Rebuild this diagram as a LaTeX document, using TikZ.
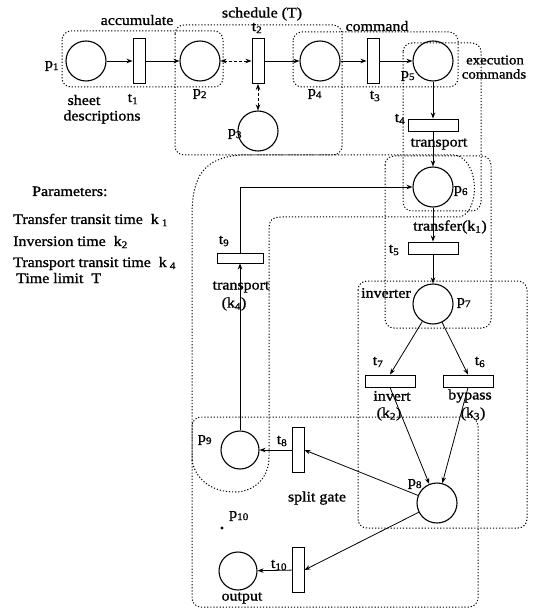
\documentclass[tikz,border=0pt]{standalone}
\usepackage{fontspec}
\setmainfont{Liberation Serif}[FakeStretch=1.1,FakeBold=1.2]
\usetikzlibrary{arrows.meta}
\newcommand\lsb[1]{\textsubscript{#1}}
\begin{document}
\begin{tikzpicture}[x=1pt,y=-1pt,
  placenode/.style={draw,circle,line width=1.1pt,minimum size=40pt,inner sep=0pt},
  vtr/.style={draw,rectangle,line width=0.9pt,minimum width=12pt,minimum height=45pt,inner sep=0pt},
  htr/.style={draw,rectangle,line width=0.9pt,minimum width=50pt,minimum height=12pt,inner sep=0pt},
  flow/.style={line width=0.8pt,-{Stealth[length=6pt,width=4.5pt]}},
  flowtwo/.style={line width=0.8pt,densely dashed,{Stealth[length=6pt,width=4.5pt]}-{Stealth[length=6pt,width=4.5pt]}},
  region/.style={line width=1pt,dash pattern=on 1.2pt off 1.9pt,rounded corners=9pt},
  lbl/.style={inner sep=0pt,font=\fontsize{14.5}{12}\selectfont},
]
\useasboundingbox (0,0) rectangle (539,609);

% dotted regions
\draw[region] (62,31) rectangle (223,87);
\draw[region] (175,25) rectangle (342,155);
\draw[region] (293,32) rectangle (458,87);
\draw[region] (403,43) rectangle (481,211);
\draw[region] (385,156) rectangle (491,328);
\draw[region] (358,281) rectangle (527,528);
\draw[region] (192,417) rectangle (478,607);
\draw[line width=1pt,dash pattern=on 1.2pt off 1.9pt]
  (192,460) -- (192,215) .. controls (192,175) and (205,158) .. (240,155)
  -- (455,155) .. controls (480,160) and (480,212) .. (460,217)
  -- (282,217) .. controls (272,217) and (269,220) .. (269,230)
  -- (269,457) .. controls (269,480) and (252,492) .. (235,492)
  .. controls (210,492) and (195,478) .. (192,460);

% places and transitions
\node[placenode] (p1) at (86,61) {};
\node[vtr] (t1) at (139,61) {};
\node[placenode] (p2) at (200,61) {};
\node[vtr] (t2) at (258,61) {};
\node[placenode] (p3) at (258,131) {};
\node[placenode] (p4) at (320,61) {};
\node[vtr] (t3) at (373,61) {};
\node[placenode] (p5) at (433,61) {};
\node[htr] (t4) at (433,125) {};
\node[placenode] (p6) at (433,187) {};
\node[htr] (t5) at (433,248) {};
\node[placenode] (p7) at (433,304) {};
\node[htr] (t7) at (390,381) {};
\node[htr] (t6) at (468,381) {};
\node[placenode] (p8) at (437,503) {};
\node[vtr] (t8) at (298,450) {};
\node[placenode,minimum size=38pt] (p9) at (240,450) {};
\node[vtr] (t10) at (298,570) {};
\node[placenode,minimum size=38pt] (p10) at (238,571) {};
\node[htr,minimum width=46pt,minimum height=10pt] (t9) at (240,258) {};
\node[circle,fill,inner sep=1.1pt] (tok) at (222,528) {};

% arcs
\draw[flow] (p1) -- (t1);
\draw[flow] (t1) -- (p2);
\draw[flowtwo] (p2) -- (t2);
\draw[flowtwo] (t2) -- (p3);
\draw[flow] (t2) -- (p4);
\draw[flow] (p4) -- (t3);
\draw[flow] (t3) -- (p5);
\draw[flow] (p5) -- (t4);
\draw[flow] (t4) -- (p6);
\draw[flow] (p6) -- (t5);
\draw[flow] (t5) -- (p7);
\draw[flow] (p7) -- (t7.north);
\draw[flow] (p7) -- (t6.north);
\draw[flow] (t7.south) -- (p8);
\draw[flow] (t6.south) -- (p8);
\draw[flow] (p8) -- (t8.east);
\draw[flow] (p8) -- (t10.east);
\draw[flow] (t8) -- (p9);
\draw[flow] (t10) -- (p10);
\draw[flow] (p9) -- (t9);
\draw[flow] (t9.north) |- (p6.west);

% labels
\node[lbl] (lp1) at (52,66) {p\lsb{1}};
\node[lbl] (lacc) at (137,20) {accumulate};
\node[lbl] (lsheet) at (84,100) {sheet};
\node[lbl] (ldesc) at (102,117) {descriptions};
\node[lbl] (lt1) at (133,99) {t\lsb{1}};
\node[lbl] (lp2) at (200,94) {p\lsb{2}};
\node[lbl] (lsch) at (262,14) {schedule (T)};
\node[lbl] (lt2) at (257,28) {t\lsb{2}};
\node[lbl] (lp3) at (235,134) {p\lsb{3}};
\node[lbl] (lp4) at (315,94) {p\lsb{4}};
\node[lbl] (lcmd) at (377,26) {command};
\node[lbl] (lt3) at (375,96) {t\lsb{3}};
\node[lbl] (lp5) at (408,76) {p\lsb{5}};
\node[lbl,font=\fontsize{13.5}{12}\selectfont] (lexec) at (495,60) {execution};
\node[lbl,font=\fontsize{13.5}{12}\selectfont] (lcmds) at (494,74) {commands};
\node[lbl] (lt4) at (400,119) {t\lsb{4}};
\node[lbl] (ltr1) at (439,144) {transport};
\node[lbl] (lp6) at (461,191) {p\lsb{6}};
\node[lbl] (ltransf) at (450,227) {transfer(k\lsb{1})};
\node[lbl] (lt5) at (394,250) {t\lsb{5}};
\node[lbl] (linv) at (386,293) {inverter};
\node[lbl] (lp7) at (464,303) {p\lsb{7}};
\node[lbl] (lt7) at (378,362) {t\lsb{7}};
\node[lbl] (lt6) at (480,362) {t\lsb{6}};
\node[lbl] (linvert) at (392,396) {invert};
\node[lbl] (lk2) at (389,414) {(k\lsb{2})};
\node[lbl] (lbyp) at (470,396) {bypass};
\node[lbl] (lk3) at (473,414) {(k\lsb{3})};
\node[lbl] (lp8) at (415,484) {p\lsb{8}};
\node[lbl] (lt8) at (282,441) {t\lsb{8}};
\node[lbl] (lp9) at (205,440) {p\lsb{9}};
\node[lbl] (lsplit) at (317,498) {split gate};
\node[lbl] (lp10) at (239,516) {p\lsb{10}};
\node[lbl] (lt10) at (279,565) {t\lsb{10}};
\node[lbl] (lout) at (242,598) {output};
\node[lbl] (lt9) at (224,241) {t\lsb{9}};
\node[lbl] (ltr2) at (241,287) {transport};
\node[lbl] (lk4) at (234,304) {(k\lsb{4})};

\node[lbl,anchor=base west] (par0) at (32,196) {Parameters:};
\node[lbl,anchor=base west] (par1) at (13,224) {Transfer transit time\ \ k\hspace{3pt}\lsb{1}};
\node[lbl,anchor=base west] (par2) at (13,246) {Inversion time\ \ k\lsb{2}};
\node[lbl,anchor=base west] (par3) at (13,267) {Transport transit time\ \ k\hspace{3pt}\lsb{4}};
\node[lbl,anchor=base west] (par4) at (16,283) {Time limit\ \ T};
\end{tikzpicture}
\end{document}
